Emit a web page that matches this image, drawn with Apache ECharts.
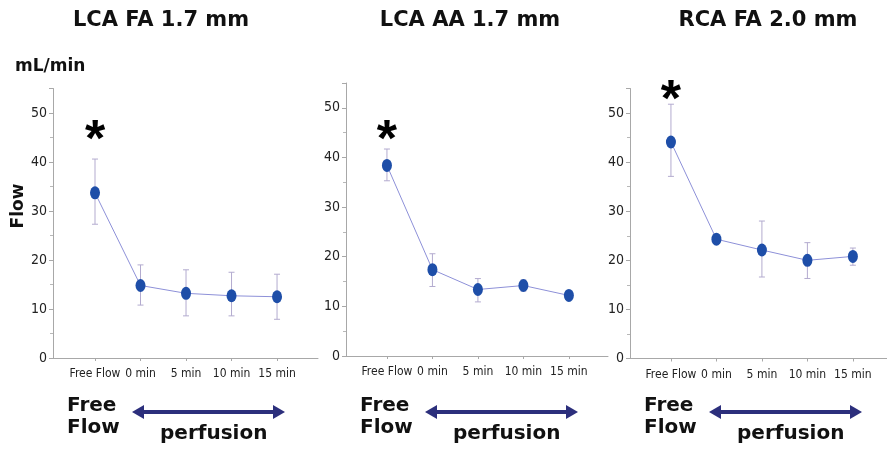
<!DOCTYPE html>
<html>
<head>
<meta charset="utf-8">
<script src="https://cdn.jsdelivr.net/npm/echarts@6/dist/echarts.min.js"></script>
<style>
  html, body { margin: 0; padding: 0; background: #fff; }
  #chart { width: 887px; height: 450px; }
</style>
</head>
<body>
<div id="chart"></div>
<script>
var categories = ["Free Flow", "0 min", "5 min", "10 min", "15 min"];
var titles = ["LCA FA 1.7 mm", "LCA AA 1.7 mm", "RCA FA 2.0 mm"];

var lcaFaMean = [33.7, 14.8, 13.2, 12.7, 12.5];
var lcaFaLow = [27.3, 10.8, 8.6, 8.6, 7.9];
var lcaFaHigh = [40.6, 19.0, 18.0, 17.5, 17.1];

var lcaAaMean = [38.4, 17.4, 13.4, 14.2, 12.2];
var lcaAaLow = [35.3, 14.0, 10.9, 13.1, 11.5];
var lcaAaHigh = [41.7, 20.6, 15.6, 15.3, 12.9];

var rcaFaMean = [44.1, 24.3, 22.1, 20.0, 20.8];
var rcaFaLow = [37.1, 23.7, 16.6, 16.3, 19.0];
var rcaFaHigh = [51.8, 24.9, 28.0, 23.6, 22.5];

// asterisk marks significance at Free Flow
var starAt = [46.5, 45.5, 54.7];

var panels = [
	{ mean: lcaFaMean, low: lcaFaLow, high: lcaFaHigh, left: 53, width: 265, top: 88.5, height: 269.5, xmin: -0.923, xmax: 4.9, titleX: 161 },
	{ mean: lcaAaMean, low: lcaAaLow, high: lcaAaHigh, left: 346, width: 262, top: 83, height: 273, xmin: -0.9, xmax: 4.86, titleX: 470 },
	{ mean: rcaFaMean, low: rcaFaLow, high: rcaFaHigh, left: 630, width: 257, top: 88.5, height: 270, xmin: -0.9, xmax: 4.75, titleX: 768 }
];

var narrow = "'DejaVu Sans Condensed', 'Liberation Sans Narrow', 'Liberation Sans', sans-serif";
var boldFont = "'DejaVu Sans', Verdana, sans-serif";

var chart = echarts.init(document.getElementById("chart"));

var grid = [], xAxis = [], yAxis = [], series = [], graphic = [];

panels.forEach(function(p, i) {
	grid.push({ left: p.left, top: p.top, width: p.width, height: p.height });
	xAxis.push({
		type: "value", gridIndex: i, min: p.xmin, max: p.xmax,
		splitLine: { show: false },
		axisLine: { show: true, onZero: false, lineStyle: { color: "#a8a8a8", width: 1 } },
		axisTick: { show: true, length: 3, customValues: [0, 1, 2, 3, 4], lineStyle: { color: "#a8a8a8" } },
		axisLabel: {
			customValues: [0, 1, 2, 3, 4], margin: 10,
			color: "#222", fontSize: 12, fontFamily: narrow,
			formatter: function(v) { return categories[Math.round(v)]; }
		}
	});
	yAxis.push({
		type: "value", gridIndex: i, min: 0, max: 55, interval: 10,
		splitLine: { show: false },
		axisLine: { show: true, onZero: false, lineStyle: { color: "#a8a8a8", width: 1 } },
		axisTick: { show: true, length: 4, lineStyle: { color: "#a8a8a8" } },
		minorTick: { show: true, splitNumber: 2, length: 3, lineStyle: { color: "#b8b8b8" } },
		axisLabel: {
			margin: 6, color: "#222", fontSize: 14, fontFamily: narrow,
			formatter: function(v) { return v > 50 ? "" : v; }
		}
	});

	var pts = p.mean.map(function(v, k) { return [k, v]; });
	var bars = p.mean.map(function(v, k) { return [k, p.low[k], p.high[k]]; });

	series.push({
		type: "custom", xAxisIndex: i, yAxisIndex: i, data: bars, z: 1,
		renderItem: function(params, api) {
			var lo = api.coord([api.value(0), api.value(1)]);
			var hi = api.coord([api.value(0), api.value(2)]);
			var st = { stroke: "#b3abcf", lineWidth: 1 };
			return {
				type: "group",
				children: [
					{ type: "line", shape: { x1: lo[0], y1: lo[1], x2: hi[0], y2: hi[1] }, style: st },
					{ type: "line", shape: { x1: lo[0] - 3, y1: lo[1], x2: lo[0] + 3, y2: lo[1] }, style: st },
					{ type: "line", shape: { x1: hi[0] - 3, y1: hi[1], x2: hi[0] + 3, y2: hi[1] }, style: st }
				]
			};
		}
	});
	series.push({
		type: "line", xAxisIndex: i, yAxisIndex: i, data: pts, z: 3,
		symbol: "circle", symbolSize: [10, 13],
		lineStyle: { color: "#8d90d8", width: 1 },
		itemStyle: { color: "#1e4ea8" }
	});
	series.push({
		type: "scatter", xAxisIndex: i, yAxisIndex: i, data: [[0, starAt[i]]],
		symbolSize: 0, silent: true,
		itemStyle: { opacity: 1 },
		label: {
			show: true, position: "inside", formatter: "*",
			offset: [0, 12],
			fontSize: 52, fontWeight: "bold", color: "#000",
			textBorderWidth: 0,
			fontFamily: "'Liberation Sans', Arial, sans-serif"
		}
	});

	graphic.push({
		type: "text", x: p.titleX, y: 21,
		style: { text: titles[i], fill: "#111", font: "bold 21px " + boldFont, textAlign: "center", textVerticalAlign: "middle" }
	});
	graphic.push({
		type: "text", left: p.left + 14, top: 395,
		style: { text: "Free\nFlow", fill: "#111", font: "bold 20px " + boldFont, lineHeight: 22 }
	});
	graphic.push({
		type: "text", left: p.left + 107, top: 424,
		style: { text: "perfusion", fill: "#111", font: "bold 20px " + boldFont }
	});
	var ax = p.left + 79, bx = p.left + 232, ay = 412;
	graphic.push({
		type: "group",
		children: [
			{ type: "line", shape: { x1: ax + 8, y1: ay, x2: bx - 8, y2: ay }, style: { stroke: "#2c2f7c", lineWidth: 4 } },
			{ type: "polygon", shape: { points: [[ax, ay], [ax + 12, ay - 7], [ax + 12, ay + 7]] }, style: { fill: "#2c2f7c" } },
			{ type: "polygon", shape: { points: [[bx, ay], [bx - 12, ay - 7], [bx - 12, ay + 7]] }, style: { fill: "#2c2f7c" } }
		]
	});
});

graphic.push({
	type: "text", left: 15, top: 58,
	style: { text: "mL/min", fill: "#111", font: "bold 17px " + boldFont }
});
graphic.push({
	type: "text", x: 19, y: 206, rotation: Math.PI / 2,
	style: { text: "Flow", fill: "#111", font: "bold 17px " + boldFont, textAlign: "center", textVerticalAlign: "middle" }
});

chart.setOption({
	animation: false,
	grid: grid,
	xAxis: xAxis,
	yAxis: yAxis,
	series: series,
	graphic: graphic
});
</script>
</body>
</html>
